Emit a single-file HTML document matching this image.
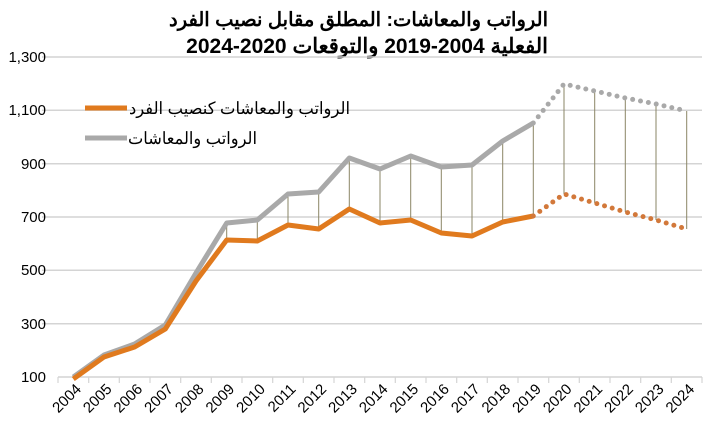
<!DOCTYPE html>
<html><head><meta charset="utf-8"><style>
body{margin:0;background:#fff;}
svg text{font-family:"Liberation Sans","Noto Sans CJK SC",sans-serif;}
</style></head><body>
<svg width="714" height="435" viewBox="0 0 714 435" xmlns="http://www.w3.org/2000/svg">
<text x="548" y="26" text-anchor="end" font-size="19.5" font-weight="bold" fill="#000">الرواتب والمعاشات: المطلق مقابل نصيب الفرد</text>
<text x="548" y="53" text-anchor="end" font-size="21" font-weight="bold" fill="#000">الفعلية 2004-2019 والتوقعات 2020-2024</text>
<g stroke="#d4d4d4" stroke-width="1.5">
<line x1="42" y1="57" x2="702" y2="57"/>
<line x1="42" y1="110.3" x2="702" y2="110.3"/>
<line x1="42" y1="163.7" x2="702" y2="163.7"/>
<line x1="42" y1="217" x2="702" y2="217"/>
<line x1="42" y1="270.3" x2="702" y2="270.3"/>
<line x1="42" y1="323.7" x2="702" y2="323.7"/>
<line x1="58" y1="377" x2="702" y2="377"/>
</g>
<g stroke="#d4d4d4" stroke-width="1.2">
<line x1="58" y1="377" x2="58" y2="383"/><line x1="88.7" y1="377" x2="88.7" y2="383"/><line x1="119.3" y1="377" x2="119.3" y2="383"/><line x1="150" y1="377" x2="150" y2="383"/><line x1="180.7" y1="377" x2="180.7" y2="383"/><line x1="211.3" y1="377" x2="211.3" y2="383"/><line x1="242" y1="377" x2="242" y2="383"/><line x1="272.7" y1="377" x2="272.7" y2="383"/><line x1="303.3" y1="377" x2="303.3" y2="383"/><line x1="334" y1="377" x2="334" y2="383"/><line x1="364.7" y1="377" x2="364.7" y2="383"/><line x1="395.3" y1="377" x2="395.3" y2="383"/><line x1="426" y1="377" x2="426" y2="383"/><line x1="456.7" y1="377" x2="456.7" y2="383"/><line x1="487.3" y1="377" x2="487.3" y2="383"/><line x1="518" y1="377" x2="518" y2="383"/><line x1="548.7" y1="377" x2="548.7" y2="383"/><line x1="579.3" y1="377" x2="579.3" y2="383"/><line x1="610" y1="377" x2="610" y2="383"/><line x1="640.7" y1="377" x2="640.7" y2="383"/><line x1="671.3" y1="377" x2="671.3" y2="383"/><line x1="702" y1="377" x2="702" y2="383"/>
</g>
<g font-size="15" fill="#000" text-anchor="end">
<text x="46" y="62">1,300</text><text x="46" y="115">1,100</text><text x="46" y="169">900</text><text x="46" y="222">700</text><text x="46" y="275">500</text><text x="46" y="329">300</text><text x="46" y="382">100</text>
</g>
<g font-size="15" fill="#000" text-anchor="end">
<text transform="translate(82,390) rotate(-45)">2004</text>
<text transform="translate(112.7,390) rotate(-45)">2005</text>
<text transform="translate(143.3,390) rotate(-45)">2006</text>
<text transform="translate(174,390) rotate(-45)">2007</text>
<text transform="translate(204.7,390) rotate(-45)">2008</text>
<text transform="translate(235.3,390) rotate(-45)">2009</text>
<text transform="translate(266,390) rotate(-45)">2010</text>
<text transform="translate(296.7,390) rotate(-45)">2011</text>
<text transform="translate(327.3,390) rotate(-45)">2012</text>
<text transform="translate(358,390) rotate(-45)">2013</text>
<text transform="translate(388.7,390) rotate(-45)">2014</text>
<text transform="translate(419.3,390) rotate(-45)">2015</text>
<text transform="translate(450,390) rotate(-45)">2016</text>
<text transform="translate(480.7,390) rotate(-45)">2017</text>
<text transform="translate(511.3,390) rotate(-45)">2018</text>
<text transform="translate(542,390) rotate(-45)">2019</text>
<text transform="translate(572.7,390) rotate(-45)">2020</text>
<text transform="translate(603.3,390) rotate(-45)">2021</text>
<text transform="translate(634,390) rotate(-45)">2022</text>
<text transform="translate(664.7,390) rotate(-45)">2023</text>
<text transform="translate(695.3,390) rotate(-45)">2024</text>
</g>
<g stroke="#8a8566" stroke-width="1">
<line x1="226.7" y1="223" x2="226.7" y2="240"/>
<line x1="257.3" y1="220" x2="257.3" y2="241"/>
<line x1="288" y1="194" x2="288" y2="225"/>
<line x1="318.7" y1="192" x2="318.7" y2="229"/>
<line x1="349.3" y1="158" x2="349.3" y2="209"/>
<line x1="380" y1="169" x2="380" y2="223"/>
<line x1="410.7" y1="156" x2="410.7" y2="220"/>
<line x1="441.3" y1="167" x2="441.3" y2="233"/>
<line x1="472" y1="165" x2="472" y2="236"/>
<line x1="502.7" y1="141" x2="502.7" y2="222"/>
<line x1="533.3" y1="123" x2="533.3" y2="216"/>
<line x1="564" y1="84" x2="564" y2="194"/>
<line x1="594.7" y1="91" x2="594.7" y2="203"/>
<line x1="625.3" y1="98" x2="625.3" y2="212"/>
<line x1="656" y1="104" x2="656" y2="220"/>
<line x1="686.7" y1="111" x2="686.7" y2="229"/>
</g>
<polyline fill="none" stroke="#a9a9a9" stroke-width="5" stroke-linejoin="round" points="73.3,377 104,355 134.6,344 165.3,325 196,273 226.7,223 257.3,220 288,194 318.7,192 349.3,158 380,169 410.7,156 441.3,167 472,165 502.7,141 533.3,123"/>
<polyline fill="none" stroke="#e07a1e" stroke-width="5" stroke-linejoin="round" points="73.3,379 104,357 134.6,347 165.3,329 196,281 226.7,240 257.3,241 288,225 318.7,229 349.3,209 380,223 410.7,220 441.3,233 472,236 502.7,222 533.3,216"/>
<polyline fill="none" stroke="#a9a9a9" stroke-width="5" stroke-linecap="round" stroke-dasharray="0 8" points="533.3,123 564,84 594.7,91 625.3,98 656,104 686.7,111"/>
<polyline fill="none" stroke="#d2783a" stroke-width="5" stroke-linecap="round" stroke-dasharray="0 8" points="533.3,216 564,194 594.7,203 625.3,212 656,220 686.7,229"/>
<line x1="85" y1="108" x2="127" y2="108" stroke="#e07a1e" stroke-width="5"/>
<line x1="85" y1="138" x2="127" y2="138" stroke="#a9a9a9" stroke-width="5"/>
<text x="350" y="114" text-anchor="end" font-size="17" fill="#000" textLength="221" lengthAdjust="spacingAndGlyphs">الرواتب والمعاشات كنصيب الفرد</text>
<text x="257" y="144" text-anchor="end" font-size="17" fill="#000" textLength="129" lengthAdjust="spacingAndGlyphs">الرواتب والمعاشات</text>
</svg>
</body></html>
